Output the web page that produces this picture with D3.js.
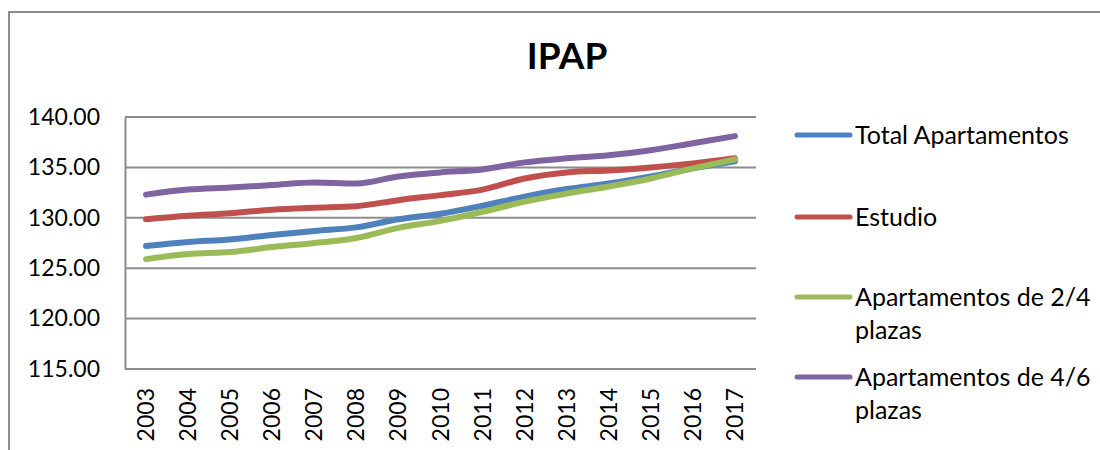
<!DOCTYPE html>
<html>
<head>
<meta charset="utf-8">
<script src="https://cdn.jsdelivr.net/npm/d3@7"></script>
<style>
  body { margin: 0; background: #fff; }
  svg { display: block; font-family: Lato, "Open Sans", sans-serif; }
</style>
</head>
<body>
<svg id="chart" width="1100" height="450"></svg>
<script>
var years = ["2003","2004","2005","2006","2007","2008","2009","2010","2011","2012","2013","2014","2015","2016","2017"];
var yTicks = [115, 120, 125, 130, 135, 140];

var total = [127.2,127.6,127.85,128.3,128.7,129.05,129.85,130.4,131.2,132.1,132.85,133.4,134.1,134.9,135.6];
var estudio = [129.85,130.2,130.45,130.8,131.0,131.15,131.75,132.25,132.8,133.9,134.5,134.7,135.0,135.4,135.9];
var ap24 = [125.9,126.4,126.6,127.1,127.5,128.0,129.0,129.7,130.6,131.6,132.4,133.1,133.9,134.9,135.8];
var ap46 = [132.3,132.8,133.0,133.25,133.5,133.4,134.1,134.5,134.8,135.5,135.9,136.2,136.7,137.4,138.1];

var series = [
  {name: ["Total Apartamentos"], values: total, color: "#4F81BD"},
  {name: ["Estudio"], values: estudio, color: "#C0504D"},
  {name: ["Apartamentos de 2/4", "plazas"], values: ap24, color: "#9BBB59"},
  {name: ["Apartamentos de 4/6", "plazas"], values: ap46, color: "#8064A2"}
];

var svg = d3.select("#chart");

// outer chart frame (cropped at right and bottom)
svg.append("path")
  .attr("d", "M9,450V12H1100")
  .attr("fill", "none")
  .attr("stroke", "#8c8c8c")
  .attr("stroke-width", 2);

svg.append("text")
  .attr("x", 567).attr("y", 69)
  .attr("text-anchor", "middle")
  .attr("font-weight", "bold")
  .attr("font-size", 37)
  .text("IPAP");

var x = d3.scaleBand().domain(years).range([125, 756]);
var y = d3.scaleLinear().domain([115, 140]).range([369, 117]);

// gridlines
svg.append("g").selectAll("line")
  .data(yTicks)
  .enter().append("line")
  .attr("x1", 125).attr("x2", 756)
  .attr("y1", function(d) { return y(d); })
  .attr("y2", function(d) { return y(d); })
  .attr("stroke", "#8c8c8c")
  .attr("stroke-width", 2);

var yAxis = svg.append("g")
  .attr("transform", "translate(125,0)")
  .call(d3.axisLeft(y).tickValues(yTicks).tickSize(0).tickPadding(25).tickFormat(d3.format(".2f")));
yAxis.select(".domain").attr("stroke", "#8c8c8c").attr("stroke-width", 2);
yAxis.selectAll("text").attr("font-size", 23).attr("font-family", "Lato").attr("fill", "#000");

var xAxis = svg.append("g")
  .attr("transform", "translate(0,369)")
  .call(d3.axisBottom(x).tickSize(0));
xAxis.select(".domain").remove();
xAxis.selectAll("text")
  .attr("font-size", 23).attr("font-family", "Lato").attr("fill", "#000")
  .attr("transform", "rotate(-90)")
  .attr("text-anchor", "end")
  .attr("x", -19).attr("y", 0).attr("dy", "0.35em");

var line = d3.line()
  .x(function(d, i) { return x(years[i]) + x.bandwidth() / 2; })
  .y(function(d) { return y(d); })
  .curve(d3.curveMonotoneX);

svg.append("g").selectAll("path")
  .data(series)
  .enter().append("path")
  .attr("d", function(d) { return line(d.values); })
  .attr("fill", "none")
  .attr("stroke", function(d) { return d.color; })
  .attr("stroke-width", 6)
  .attr("stroke-linecap", "round")
  .attr("stroke-linejoin", "round");

// legend
var legendY = [135, 217, 297, 377];
var lg = svg.append("g").selectAll("g")
  .data(series)
  .enter().append("g")
  .attr("transform", function(d, i) { return "translate(0," + legendY[i] + ")"; });
lg.append("line")
  .attr("x1", 797).attr("x2", 850)
  .attr("stroke", function(d) { return d.color; })
  .attr("stroke-width", 5)
  .attr("stroke-linecap", "round");
lg.append("text")
  .attr("x", 855)
  .attr("font-size", 25)
  .selectAll("tspan")
  .data(function(d) { return d.name; })
  .enter().append("tspan")
  .attr("x", 855)
  .attr("y", function(d, i) { return i * 33; })
  .attr("dy", "0.35em")
  .text(function(d) { return d; });
</script>
</body>
</html>
